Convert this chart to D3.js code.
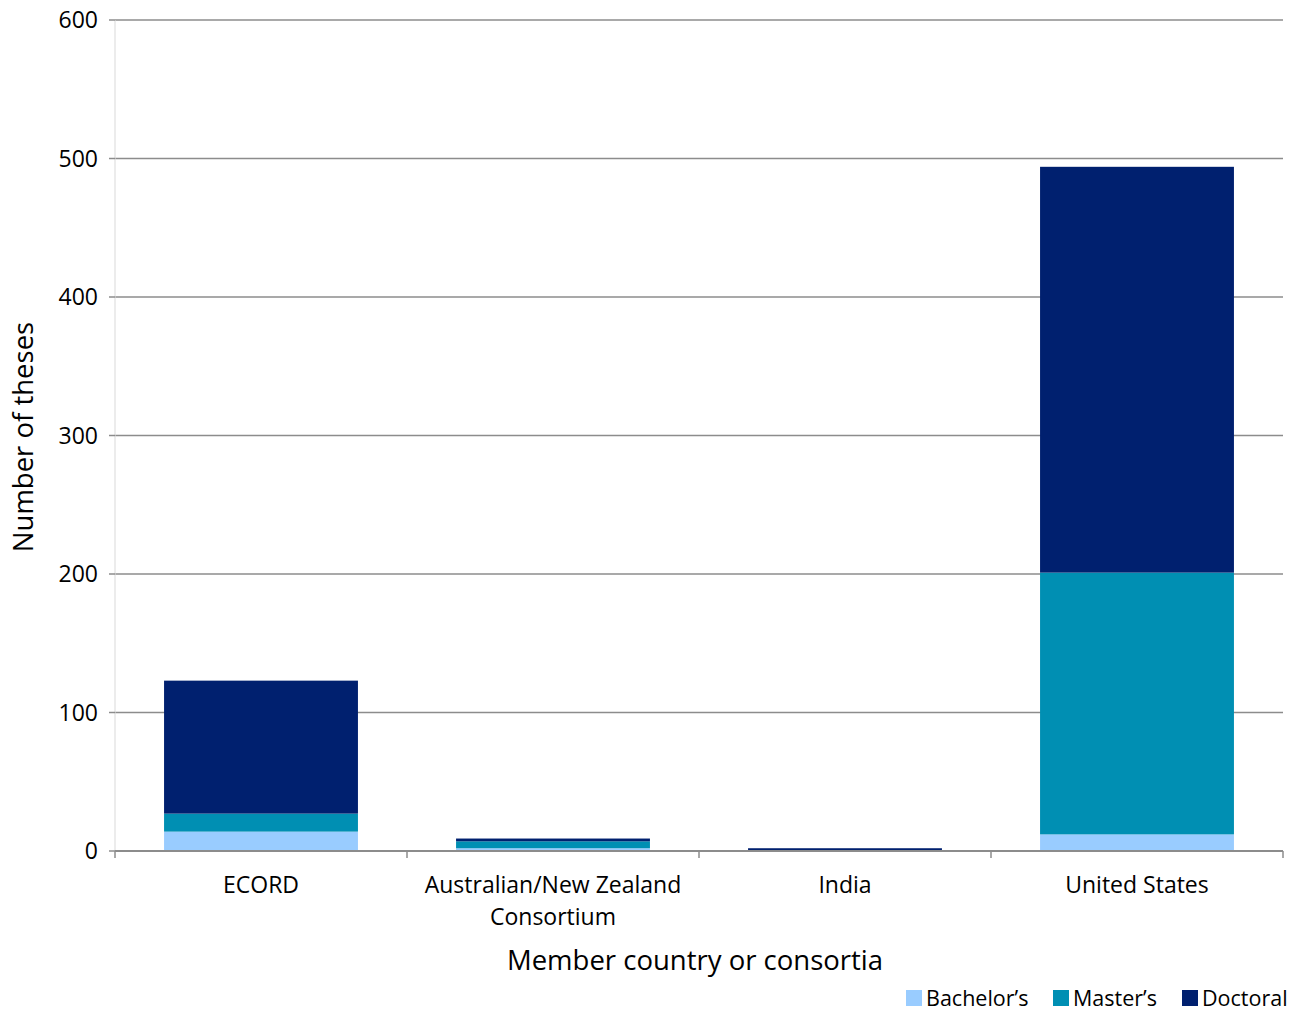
<!DOCTYPE html>
<html>
<head>
<meta charset="utf-8">
<script src="https://cdn.jsdelivr.net/npm/d3@7/dist/d3.min.js"></script>
<style>
  body { margin: 0; background: #fff; }
  text { font-family: "Open Sans", Lato, sans-serif; fill: #000; }
</style>
</head>
<body>
<div id="chart"></div>
<script>
// data
var categories = ["ECORD", "Australian/New Zealand Consortium", "India", "United States"];
var catLines = [["ECORD"], ["Australian/New Zealand", "Consortium"], ["India"], ["United States"]];
var bachelors = [14, 2, 0, 12];
var masters = [13, 5, 0, 189];
var doctoral = [96, 2, 2, 293];
var seriesNames = ["Bachelor\u2019s", "Master\u2019s", "Doctoral"];
var seriesColors = ["#99ccff", "#008fb3", "#00206f"];
var yTicks = [0, 100, 200, 300, 400, 500, 600];

var width = 1293, height = 1012;
var plotLeft = 115, plotRight = 1283, plotTop = 20, plotBottom = 851;

var svg = d3.select("#chart").append("svg")
    .attr("width", width)
    .attr("height", height);

var x = d3.scaleBand().domain(categories).range([plotLeft, plotRight])
    .paddingInner(0.336).paddingOuter(0.168);
var y = d3.scaleLinear().domain([0, 600]).range([plotBottom, plotTop]);

// gridlines
svg.append("g").selectAll("line")
    .data(yTicks.slice(1))
    .join("line")
    .attr("x1", plotLeft).attr("x2", plotRight)
    .attr("y1", d => y(d)).attr("y2", d => y(d))
    .attr("stroke", "#8c8c8c").attr("stroke-width", 1.5);

// y axis line
svg.append("line")
    .attr("x1", plotLeft).attr("x2", plotLeft)
    .attr("y1", plotTop).attr("y2", plotBottom)
    .attr("stroke", "#d9d9d9").attr("stroke-width", 1);

// y tick marks + labels
var yt = svg.append("g");
yt.selectAll("line").data(yTicks).join("line")
    .attr("x1", plotLeft - 6).attr("x2", plotLeft)
    .attr("y1", d => y(d)).attr("y2", d => y(d))
    .attr("stroke", "#8c8c8c").attr("stroke-width", 1.5);
yt.selectAll("text").data(yTicks).join("text")
    .attr("x", 98).attr("y", d => y(d))
    .attr("dy", "0.35em")
    .attr("text-anchor", "end")
    .style("font-size", "23px")
    .text(d => d);

// stacked bars
var rows = categories.map(function(c, i) {
  return { cat: c, b: bachelors[i], m: masters[i], d: doctoral[i] };
});
var stack = d3.stack().keys(["b", "m", "d"])(rows);

svg.append("g").selectAll("g")
    .data(stack)
    .join("g")
    .attr("fill", (d, i) => seriesColors[i])
    .selectAll("rect")
    .data(d => d)
    .join("rect")
    .attr("x", d => x(d.data.cat))
    .attr("width", x.bandwidth())
    .attr("y", d => y(d[1]))
    .attr("height", d => y(d[0]) - y(d[1]));

// x axis
svg.append("line")
    .attr("x1", plotLeft).attr("x2", plotRight)
    .attr("y1", plotBottom).attr("y2", plotBottom)
    .attr("stroke", "#8c8c8c").attr("stroke-width", 2);

var bounds = d3.range(categories.length + 1)
    .map(i => plotLeft + i * (plotRight - plotLeft) / categories.length);
svg.append("g").selectAll("line").data(bounds).join("line")
    .attr("x1", d => d).attr("x2", d => d)
    .attr("y1", plotBottom).attr("y2", plotBottom + 7)
    .attr("stroke", "#8c8c8c").attr("stroke-width", 1.5);

var xl = svg.append("g").selectAll("text")
    .data(categories)
    .join("text")
    .attr("x", d => x(d) + x.bandwidth() / 2)
    .attr("y", 893)
    .attr("text-anchor", "middle")
    .style("font-size", "23px");
xl.each(function(d, i) {
  var t = d3.select(this);
  catLines[i].forEach(function(line, j) {
    t.append("tspan")
      .attr("x", x(d) + x.bandwidth() / 2)
      .attr("dy", j === 0 ? 0 : 32)
      .text(line);
  });
});

// axis titles
svg.append("text")
    .attr("x", 695).attr("y", 970)
    .attr("text-anchor", "middle")
    .style("font-size", "27.5px")
    .text("Member country or consortia");

svg.append("text")
    .attr("transform", "translate(33,437)rotate(-90)")
    .attr("text-anchor", "middle")
    .style("font-size", "27.5px")
    .text("Number of theses");

// legend
var legX = [906, 1053, 1182];
var leg = svg.append("g").selectAll("g")
    .data(seriesNames)
    .join("g")
    .attr("transform", (d, i) => `translate(${legX[i]},990)`);
leg.append("rect")
    .attr("width", 16).attr("height", 16)
    .attr("fill", (d, i) => seriesColors[i]);
leg.append("text")
    .attr("x", 20).attr("y", 8)
    .attr("dy", "0.35em")
    .style("font-size", "21.5px")
    .text(d => d);
</script>
</body>
</html>
